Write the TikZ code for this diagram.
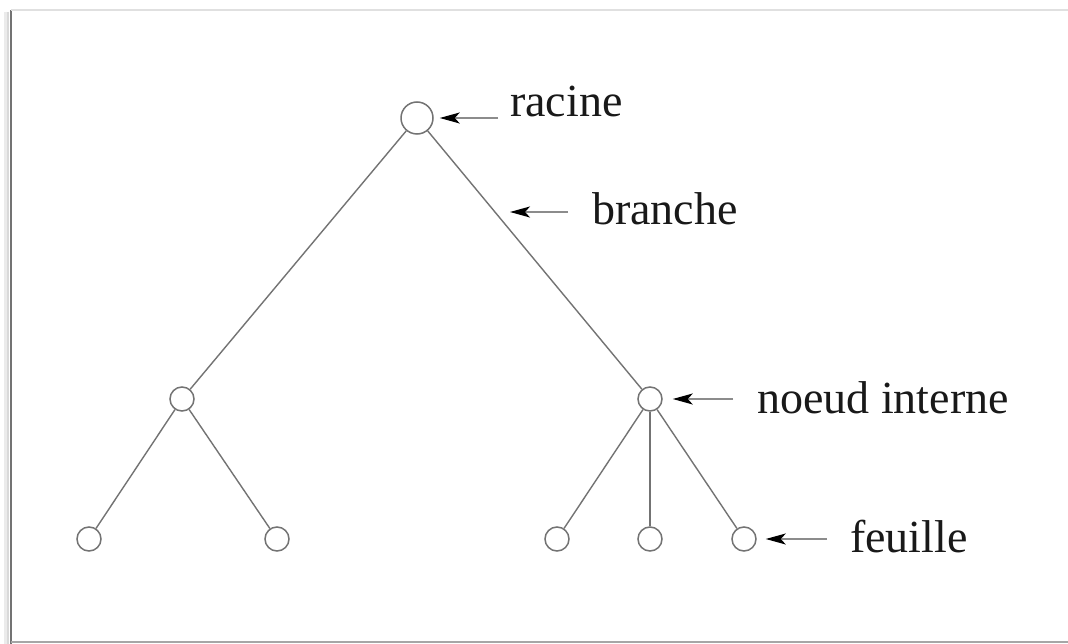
\documentclass[tikz,border=0pt]{standalone}
\usepackage{fontspec}
\setmainfont{Liberation Serif}
\usetikzlibrary{arrows.meta}
\begin{document}
\begin{tikzpicture}[x=1pt,y=-1pt,
  vertex/.style={circle,draw=black!55,line width=1.5pt,minimum size=24pt,inner sep=0pt},
  rootvertex/.style={vertex,minimum size=32pt},
  edge/.style={draw=black!55,line width=1.4pt},
  pointer/.style={draw=black!45,line width=1.6pt,
    arrows={-Stealth[length=20pt,width=11pt,inset=5pt,black]}},
  label/.style={font=\fontsize{46}{50}\selectfont,text=black!90,inner sep=0pt,anchor=base west}]
  % canvas and frame
  \useasboundingbox (0,0) rectangle (1068,644);
  \fill[white] (0,0) rectangle (1068,644);
  \draw[black!8,line width=3pt] (5,12) -- (5,644);
  \draw[black!15,line width=2pt] (8,12) -- (8,644);
  \draw[black!55,line width=2pt] (11,10) -- (11,644);
  \draw[black!12,line width=2pt] (11,10) -- (1068,10);
  \draw[black!35,line width=2pt] (11,642) -- (1068,642);
  % tree nodes
  \node[rootvertex] (root) at (417,118) {};
  \node[vertex] (left) at (182,399) {};
  \node[vertex] (right) at (650,399) {};
  \node[vertex] (l1) at (89,539) {};
  \node[vertex] (l2) at (277,539) {};
  \node[vertex] (r1) at (557,539) {};
  \node[vertex] (r2) at (650,539) {};
  \node[vertex] (r3) at (744,539) {};
  % branches
  \draw[edge] (root) -- (left);
  \draw[edge] (root) -- (right);
  \draw[edge] (left) -- (l1);
  \draw[edge] (left) -- (l2);
  \draw[edge] (right) -- (r1);
  \draw[edge] (right) -- (r2);
  \draw[edge] (right) -- (r3);
  % labels
  \node[label] (racine) at (510,117) {racine};
  \node[label] (branche) at (592,225) {branche};
  \node[label] (interne) at (757,413) {noeud interne};
  \node[label] (feuille) at (850,552) {feuille};
  % pointers
  \coordinate (racineTail) at (498,118);
  \coordinate (brancheTail) at (568,212);
  \coordinate (brancheTip) at (510,212);
  \coordinate (interneTail) at (733,399);
  \coordinate (feuilleTail) at (827,539);
  \draw[pointer,shorten >=6pt] (racineTail) -- (root);
  \draw[pointer] (brancheTail) -- (brancheTip);
  \draw[pointer,shorten >=10pt] (interneTail) -- (right);
  \draw[pointer,shorten >=9pt] (feuilleTail) -- (r3);
\end{tikzpicture}
\end{document}
